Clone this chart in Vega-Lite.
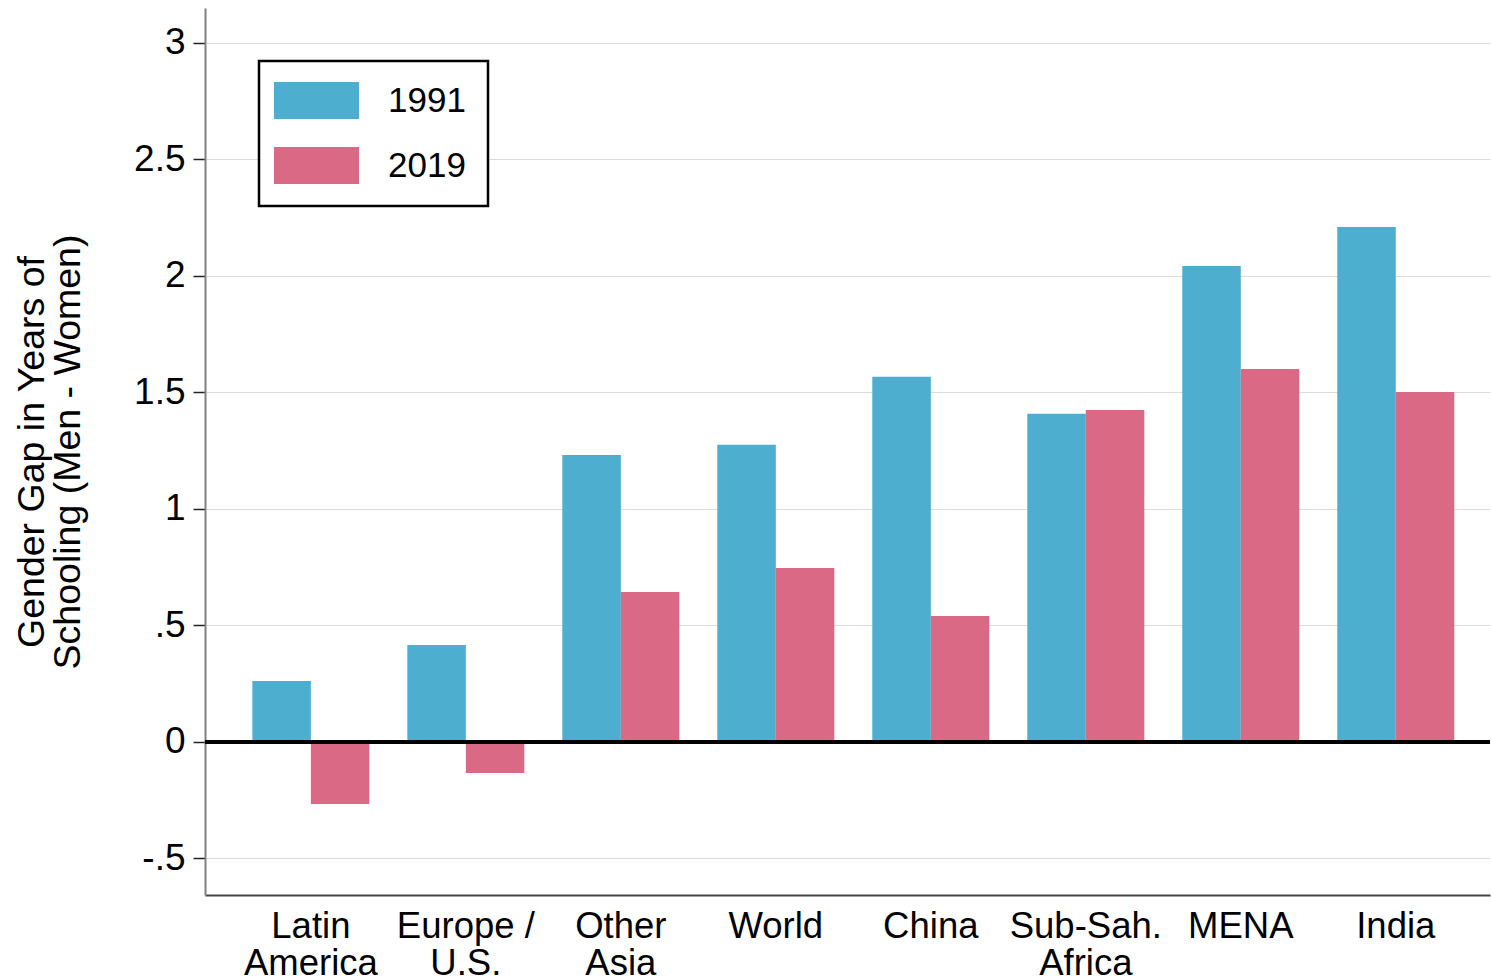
{
  "$schema": "https://vega.github.io/schema/vega-lite/v6.json",
  "autosize": "none",
  "width": 1285,
  "height": 887,
  "padding": {"left": 205, "top": 8, "right": 1, "bottom": 85},
  "background": "white",
  "config": {
    "font": "Liberation Sans",
    "view": {"stroke": null}
  },
  "data": {
    "values": [
      {"region": "Latin|America", "year": "1991", "value": 0.262},
      {"region": "Latin|America", "year": "2019", "value": -0.266},
      {"region": "Europe /|U.S.", "year": "1991", "value": 0.416},
      {"region": "Europe /|U.S.", "year": "2019", "value": -0.133},
      {"region": "Other|Asia", "year": "1991", "value": 1.232},
      {"region": "Other|Asia", "year": "2019", "value": 0.644},
      {"region": "World", "year": "1991", "value": 1.275},
      {"region": "World", "year": "2019", "value": 0.747},
      {"region": "China", "year": "1991", "value": 1.567},
      {"region": "China", "year": "2019", "value": 0.541},
      {"region": "Sub-Sah.|Africa", "year": "1991", "value": 1.408},
      {"region": "Sub-Sah.|Africa", "year": "2019", "value": 1.425},
      {"region": "MENA", "year": "1991", "value": 2.043},
      {"region": "MENA", "year": "2019", "value": 1.601},
      {"region": "India", "year": "1991", "value": 2.21},
      {"region": "India", "year": "2019", "value": 1.502}
    ]
  },
  "layer": [
    {
      "mark": {"type": "bar", "clip": true},
      "encoding": {
        "x": {
          "field": "region",
          "type": "nominal",
          "sort": null,
          "scale": {"paddingInner": 0.245, "paddingOuter": 0.268, "align": 0.57},
          "axis": {
            "title": null,
            "labelExpr": "split(datum.label, '|')",
            "labelFontSize": 36.5,
            "labelLineHeight": 37,
            "labelColor": "black",
            "labelAngle": 0,
            "labelPadding": 13,
            "ticks": false,
            "grid": false,
            "domainColor": "#444444",
            "domainWidth": 2
          }
        },
        "xOffset": {
          "field": "year",
          "type": "nominal",
          "scale": {"paddingInner": 0, "paddingOuter": 0}
        },
        "y": {
          "field": "value",
          "type": "quantitative",
          "scale": {"domain": [-0.657, 3.15], "nice": false, "zero": false},
          "axis": {
            "title": ["Gender Gap in Years of", "Schooling (Men - Women)"],
            "titleFontSize": 37.5,
            "titleFontWeight": "normal",
            "titleColor": "black",
            "titleLineHeight": 36,
            "titlePadding": 46,
            "values": [-0.5, 0, 0.5, 1, 1.5, 2, 2.5, 3],
            "labelExpr": "replace(toString(datum.value), '0.', '.')",
            "labelFontSize": 37,
            "labelColor": "black",
            "labelPadding": 8,
            "tickSize": 12,
            "tickColor": "#222222",
            "tickWidth": 1.5,
            "domainColor": "#808080",
            "domainWidth": 2,
            "gridColor": "#dcdcdc",
            "gridWidth": 1
          }
        },
        "color": {
          "field": "year",
          "type": "nominal",
          "scale": {"domain": ["1991", "2019"], "range": ["#4DAED0", "#DA6986"]},
          "legend": {
            "title": null,
            "orient": "none",
            "legendX": 54,
            "legendY": 53,
            "symbolType": "M-1.4,-1.057H3.457V1.057H-1.4Z",
            "symbolSize": 1225,
            "symbolStrokeWidth": 0,
            "symbolOpacity": 1,
            "labelFontSize": 35,
            "labelColor": "black",
            "labelOffset": 72,
            "rowPadding": 28,
            "padding": 22,
            "strokeColor": "black",
            "fillColor": "white",
            "encode": {"legend": {"update": {"strokeWidth": {"value": 2.5}}}}
          }
        }
      }
    },
    {
      "mark": {"type": "rule", "color": "black", "strokeWidth": 2.5},
      "encoding": {"y": {"datum": 0}}
    }
  ]
}
